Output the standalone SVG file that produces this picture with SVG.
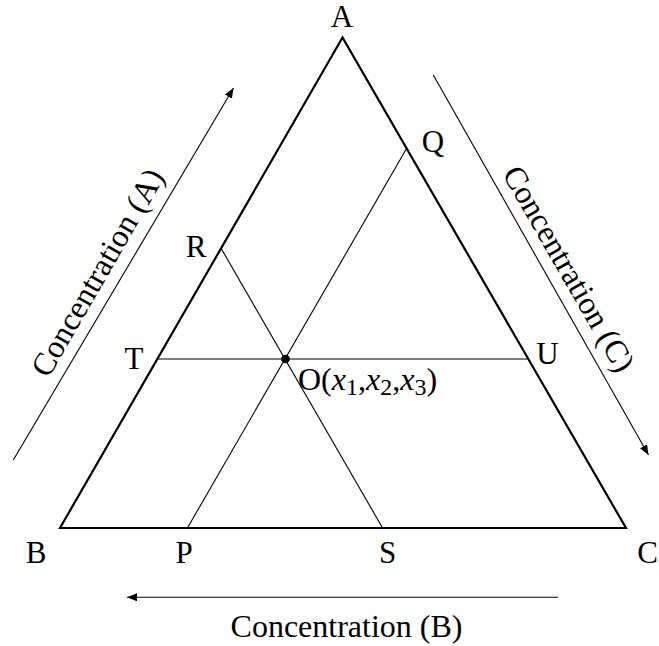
<svg xmlns="http://www.w3.org/2000/svg" width="659" height="646" viewBox="0 0 659 646">
<style>
.lbl{font-family:"Liberation Serif","Times New Roman",serif;font-size:31px;fill:#000;text-anchor:middle}
.ax{font-family:"Liberation Serif","Times New Roman",serif;font-size:32px;fill:#000;text-anchor:middle}
.thick{stroke:#000;stroke-width:2.2;fill:none;stroke-linejoin:miter}
.thin{stroke:#000;stroke-width:1.1;fill:none}
</style>
<defs>
<marker id="ah" viewBox="0 0 10 8" refX="10" refY="4" markerWidth="10" markerHeight="8" markerUnits="userSpaceOnUse" orient="auto">
<path d="M0,0 L10,4 L0,8 Z" fill="#000"/>
</marker>
</defs>
<g id="connectors">
<polygon id="triangle" class="thick" points="342.5,37.5 60,528 626,528"/>
<line class="thin" x1="157.6" y1="359" x2="528.4" y2="359"/>
<line class="thin" x1="221.3" y1="248.7" x2="382.6" y2="528"/>
<line class="thin" x1="187.4" y1="528" x2="406.7" y2="148.3"/>
<line class="thin" x1="13.3" y1="460" x2="233.5" y2="88" marker-end="url(#ah)"/>
<line class="thin" x1="433.3" y1="75" x2="648.5" y2="455" marker-end="url(#ah)"/>
<line class="thin" x1="558" y1="597.3" x2="127" y2="597.3" marker-end="url(#ah)"/>
</g>
<g id="node-A"><text class="lbl" x="342" y="26.5">A</text></g>
<g id="node-B"><text class="lbl" x="36" y="562.5">B</text></g>
<g id="node-C"><text class="lbl" x="647.5" y="562.5">C</text></g>
<g id="node-P"><text class="lbl" x="184" y="562.5">P</text></g>
<g id="node-S"><text class="lbl" x="387.5" y="562.5">S</text></g>
<g id="node-R"><text class="lbl" x="196" y="256.5">R</text></g>
<g id="node-T"><text class="lbl" x="134" y="369">T</text></g>
<g id="node-Q"><text class="lbl" x="433" y="152">Q</text></g>
<g id="node-U"><text class="lbl" x="547.5" y="364">U</text></g>
<g id="node-O">
<circle cx="285.5" cy="359" r="4.3" fill="#000"/>
<text class="lbl" x="298" y="390" style="text-anchor:start;font-size:32px">O(<tspan font-style="italic">x</tspan><tspan font-size="24" dy="5">1</tspan><tspan dy="-5">,</tspan><tspan font-style="italic">x</tspan><tspan font-size="24" dy="5">2</tspan><tspan dy="-5">,</tspan><tspan font-style="italic">x</tspan><tspan font-size="24" dy="5">3</tspan><tspan dy="-5">)</tspan></text>
</g>
<g id="axis-A"><text class="ax" transform="translate(106.6,277.8) rotate(-60)">Concentration (A)</text></g>
<g id="axis-C"><text class="ax" transform="translate(559.7,274.1) rotate(60)">Concentration (C)</text></g>
<g id="axis-B"><text class="ax" x="346.5" y="636.5">Concentration (B)</text></g>
</svg>
